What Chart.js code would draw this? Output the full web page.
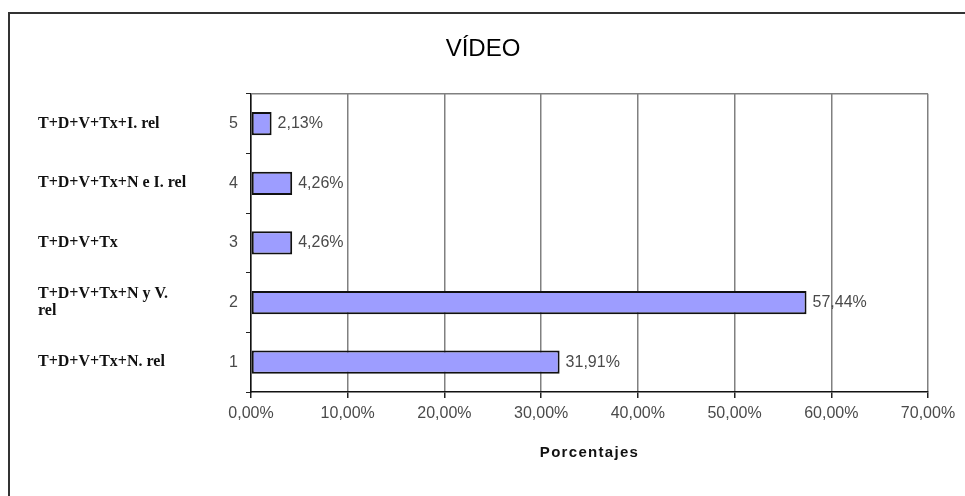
<!DOCTYPE html>
<html>
<head>
<meta charset="utf-8">
<title>VÍDEO</title>
<script src="https://cdn.jsdelivr.net/npm/chart.js@4"></script>
<style>
  html, body { margin: 0; padding: 0; background: #fff; overflow: hidden; }
  #wrap { position: relative; width: 965px; height: 496px; }
</style>
</head>
<body>
<div id="wrap"><canvas id="chart" width="965" height="496"></canvas></div>
<script>
// Category numbers (bottom to top) and their descriptions
const categoryNumbers = ['1', '2', '3', '4', '5'];
const categoryNames = [
  'T+D+V+Tx+N. rel',
  ['T+D+V+Tx+N y V.', 'rel'],
  'T+D+V+Tx',
  'T+D+V+Tx+N e I. rel',
  'T+D+V+Tx+I. rel',
];
// Percentage for each category
const percentages = [31.91, 57.44, 4.26, 4.26, 2.13];
const xTicks = [0, 10, 20, 30, 40, 50, 60, 70];

const formatPercent = (v) => v.toFixed(2).replace('.', ',') + '%';

// Outer border of the chart and plot area top edge
const framePlugin = {
  id: 'frame',
  beforeDraw(chart) {
    const ctx = chart.ctx;
    ctx.save();
    ctx.fillStyle = '#fff';
    ctx.fillRect(0, 0, chart.width, chart.height);
    ctx.strokeStyle = '#333';
    ctx.lineWidth = 2;
    ctx.strokeRect(9, 13, chart.width + 20, chart.height + 20);
    ctx.restore();
  },
  afterDatasetsDraw(chart) {
    const { ctx, chartArea } = chart;
    ctx.save();
    ctx.strokeStyle = '#808080';
    ctx.lineWidth = 1.5;
    ctx.beginPath();
    ctx.moveTo(chartArea.left, chartArea.top);
    ctx.lineTo(chartArea.right, chartArea.top);
    ctx.stroke();
    ctx.restore();
  },
};

// Value text at the end of each bar
const valueLabels = {
  id: 'valueLabels',
  afterDatasetsDraw(chart) {
    const ctx = chart.ctx;
    const meta = chart.getDatasetMeta(0);
    ctx.save();
    ctx.font = '16px "Liberation Sans", Arial, sans-serif';
    ctx.fillStyle = '#4a4a4a';
    ctx.textAlign = 'left';
    ctx.textBaseline = 'middle';
    meta.data.forEach((bar, i) => {
      ctx.fillText(formatPercent(percentages[i]), bar.x + 6, bar.y);
    });
    ctx.restore();
  },
};

// Spaced-out x axis title
const xTitle = {
  id: 'xTitle',
  afterDraw(chart) {
    const { ctx, chartArea } = chart;
    ctx.save();
    ctx.font = 'bold 15px "Liberation Sans", Arial, sans-serif';
    ctx.letterSpacing = '1.3px';
    ctx.fillStyle = '#111';
    ctx.textAlign = 'center';
    ctx.textBaseline = 'middle';
    ctx.fillText('Porcentajes', (chartArea.left + chartArea.right) / 2, chartArea.bottom + 61);
    ctx.restore();
  },
};

new Chart(document.getElementById('chart'), {
  type: 'bar',
  data: {
    labels: categoryNumbers,
    datasets: [{
      data: percentages,
      backgroundColor: '#9d9dff',
      borderColor: '#111',
      borderWidth: 2,
      borderSkipped: false,
      barPercentage: 0.39,
      categoryPercentage: 1,
    }],
  },
  options: {
    indexAxis: 'y',
    responsive: false,
    animation: false,
    layout: { padding: { left: 38, right: 37, top: 0, bottom: 0 } },
    plugins: {
      legend: { display: false },
      tooltip: { enabled: false },
      title: {
        display: true,
        text: 'VÍDEO',
        color: '#000',
        font: { family: '"Liberation Sans", Arial, sans-serif', size: 24, weight: 'normal' },
        padding: { top: 35, bottom: 30 },
      },
    },
    scales: {
      x: {
        min: 0,
        max: 70,
        afterBuildTicks(scale) {
          scale.ticks = xTicks.map((v) => ({ value: v }));
        },
        afterFit(scale) { scale.height = 104; },
        grid: {
          color: '#808080',
          lineWidth: 1.5,
          tickColor: '#222',
          tickLength: 6,
        },
        border: { color: '#111', width: 1.5 },
        ticks: {
          padding: 6,
          color: '#4a4a4a',
          font: { family: '"Liberation Sans", Arial, sans-serif', size: 16 },
          callback: (v) => formatPercent(v),
          maxRotation: 0,
        },
      },
      y: {
        type: 'category',
        reverse: true,
        weight: 0,
        afterFit(scale) { scale.width = 45; },
        grid: {
          drawOnChartArea: false,
          tickColor: '#222',
          tickLength: 5,
        },
        border: { color: '#111', width: 1.5 },
        ticks: {
          padding: 8,
          color: '#4a4a4a',
          font: { family: '"Liberation Sans", Arial, sans-serif', size: 16 },
        },
      },
      names: {
        type: 'category',
        axis: 'y',
        position: 'left',
        labels: categoryNames,
        reverse: true,
        offset: true,
        weight: 1,
        afterFit(scale) { scale.width = 168; },
        grid: { display: false },
        border: { display: false },
        ticks: {
          crossAlign: 'far',
          padding: 0,
          color: '#111',
          font: { family: '"Liberation Serif", "Times New Roman", serif', size: 16, weight: 'bold', lineHeight: 1.05 },
        },
      },
    },
  },
  plugins: [framePlugin, valueLabels, xTitle],
});
</script>
</body>
</html>
